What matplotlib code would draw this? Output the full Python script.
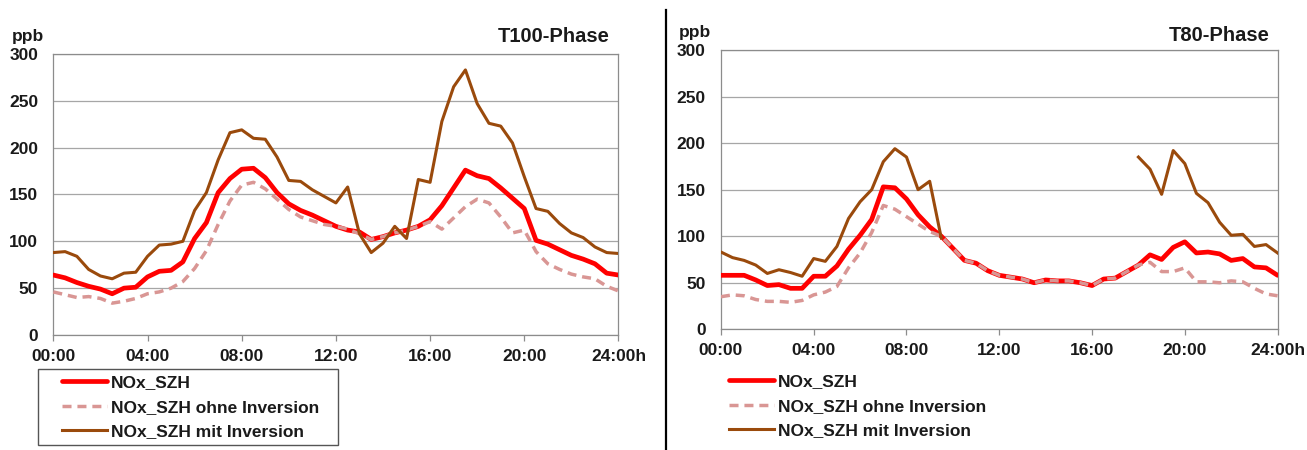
import matplotlib
matplotlib.use("Agg")
import matplotlib.pyplot as plt
from matplotlib.lines import Line2D
from matplotlib.patches import Rectangle
import numpy as np

# half-hourly time axis, hours after midnight
HOURS = np.arange(0, 24.5, 0.5)

# T100 phase, NOx in ppb
T100_SZH = [64, 61, 56, 52, 49, 44, 50, 51, 62, 68, 69, 78, 103, 120, 152, 167,
            177, 178, 168, 152, 140, 133, 128, 122, 116, 112, 110, 102, 105, 109,
            112, 116, 123, 138, 157, 176, 170, 167, 157, 146, 135, 101, 97, 91,
            85, 81, 76, 66, 64]
T100_OHNE = [46, 43, 40, 41, 39, 34, 36, 39, 44, 46, 50, 57, 71, 90, 118, 143,
             160, 163, 156, 145, 134, 126, 122, 118, 116, 113, 108, 102, 105, 109,
             112, 116, 121, 113, 125, 137, 145, 141, 126, 109, 112, 89, 76, 70,
             65, 62, 60, 52, 47]
T100_MIT = [88, 89, 84, 70, 63, 60, 66, 67, 84, 96, 97, 100, 133, 152, 187, 216,
            219, 210, 209, 190, 165, 164, 155, 148, 141, 158, 108, 88, 98, 116,
            103, 166, 163, 228, 265, 283, 247, 226, 223, 205, 169, 135, 132, 119,
            109, 104, 94, 88, 87]

# T80 phase, NOx in ppb (no inversion data between 10:00 and 17:30)
T80_SZH = [58, 58, 58, 53, 47, 48, 44, 44, 57, 57, 68, 86, 101, 118, 153, 152,
           140, 123, 110, 100, 87, 74, 71, 63, 58, 56, 54, 50, 53, 52,
           52, 50, 47, 54, 55, 62, 69, 80, 75, 88, 94, 82, 83, 81,
           74, 76, 67, 66, 58]
T80_OHNE = [35, 37, 36, 32, 30, 30, 29, 31, 37, 40, 46, 66, 82, 104, 133, 129,
            121, 113, 105, 100, 87, 74, 71, 63, 58, 56, 54, 50, 53, 52,
            52, 50, 47, 54, 55, 62, 69, 72, 62, 62, 66, 51, 51, 50,
            52, 51, 44, 38, 36]
T80_MIT = [83, 77, 74, 69, 60, 64, 61, 57, 76, 73, 89, 119, 137, 150, 180, 194,
           185, 150, 159, 98, None, None, None, None, None, None, None, None, None, None,
           None, None, None, None, None, None, 185, 172, 145, 192, 178, 146, 136, 115,
           101, 102, 89, 91, 82]

TICK_HOURS = [0, 4, 8, 12, 16, 20, 24]
TICK_LABELS = ["00:00", "04:00", "08:00", "12:00", "16:00", "20:00", "24:00h"]
LEGEND_LABELS = ["NOx_SZH", "NOx_SZH ohne Inversion", "NOx_SZH mit Inversion"]

RED = "#ff0000"
PINK = "#d99694"
BROWN = "#9a4a0c"
GRID = "#a6a6a6"
SPINE = "#8c8c8c"
TEXT = "#1a1a1a"

W, H = 1307, 450

plt.rcParams.update({
    "font.family": ["Liberation Sans", "DejaVu Sans"],
    "font.weight": "bold",
    "font.size": 12.5,
    "text.color": TEXT,
})


def to_array(values):
    return np.array([np.nan if v is None else v for v in values], dtype=float)


def draw_panel(ax, szh, ohne, mit):
    ax.plot(HOURS, szh, color=RED, lw=3.4, solid_joinstyle="round",
            solid_capstyle="round", zorder=3)
    ax.plot(HOURS, ohne, color=PINK, lw=2.5, linestyle=(0, (2.6, 1.7)),
            dash_joinstyle="round", zorder=4)
    ax.plot(HOURS, to_array(mit), color=BROWN, lw=2.2, solid_joinstyle="round",
            zorder=5)

    ax.set_xlim(0, 24)
    ax.set_ylim(0, 300)
    ax.set_xticks(TICK_HOURS)
    ax.set_xticklabels(TICK_LABELS)
    ax.set_yticks(range(0, 301, 50))
    ax.yaxis.grid(True, color=GRID, lw=0.9)
    ax.set_axisbelow(True)
    for s in ax.spines.values():
        s.set_color(SPINE)
        s.set_linewidth(0.9)
    ax.tick_params(axis="x", length=4, width=0.9, color=SPINE, pad=6,
                   labelsize=12.5, labelcolor=TEXT)
    ax.tick_params(axis="y", length=0, pad=11, labelsize=12.5, labelcolor=TEXT)
    for lab in ax.get_xticklabels() + ax.get_yticklabels():
        lab.set_fontweight("bold")


def add_legend(fig, x_px, top_px):
    handles = [
        Line2D([], [], color=RED, lw=3.4, solid_capstyle="round"),
        Line2D([], [], color=PINK, lw=2.5, linestyle=(0, (2.6, 1.7))),
        Line2D([], [], color=BROWN, lw=2.2),
    ]
    leg = fig.legend(handles, LEGEND_LABELS, loc="upper left",
                     bbox_to_anchor=(x_px / W, 1 - top_px / H),
                     frameon=False, handlelength=2.6, handletextpad=0.2,
                     labelspacing=0.55, borderpad=0, borderaxespad=0,
                     prop={"weight": "bold", "size": 12.5})
    for t in leg.get_texts():
        t.set_color(TEXT)
    return leg


fig = plt.figure(figsize=(W / 100, H / 100), dpi=100)
fig.patch.set_facecolor("white")

ax1 = fig.add_axes([0.0408, 0.2556, 0.4324, 0.6244])
ax2 = fig.add_axes([0.5516, 0.2682, 0.4259, 0.6207])

draw_panel(ax1, T100_SZH, T100_OHNE, T100_MIT)
draw_panel(ax2, T80_SZH, T80_OHNE, T80_MIT)

fig.text(0.0214, 0.92, "ppb", ha="center", va="center", fontsize=12.5,
         fontweight="bold")
fig.text(0.532, 0.927, "ppb", ha="center", va="center", fontsize=12.5,
         fontweight="bold")
fig.text(0.4667, 0.92, "T100-Phase", ha="right", va="center", fontsize=14.5,
         fontweight="bold")
fig.text(0.9717, 0.922, "T80-Phase", ha="right", va="center", fontsize=14.5,
         fontweight="bold")

# separator between the two phases
fig.add_artist(Line2D([666 / W, 666 / W], [0, 0.978], color="black",
                      lw=1.6, transform=fig.transFigure))

# left legend sits in a plain box, right one is unframed
fig.add_artist(Rectangle((38 / W, 1 - 445 / H), 300 / W, 76 / H,
                         transform=fig.transFigure, fill=False,
                         edgecolor="#555555", lw=1.0))
add_legend(fig, 62, 375)
add_legend(fig, 729, 374)

fig.savefig("out.png", dpi=100, facecolor="white")
